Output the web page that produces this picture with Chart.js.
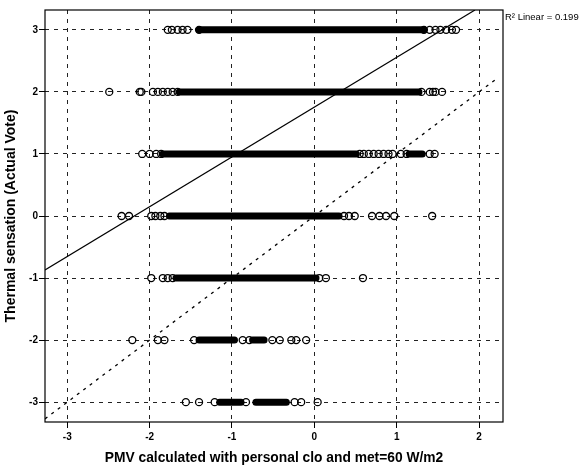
<!DOCTYPE html>
<html>
<head>
<meta charset="utf-8">
<script src="https://cdn.jsdelivr.net/npm/chart.js@4"></script>
<style>
html, body { margin: 0; padding: 0; background: #fff; }
canvas { display: block; }
</style>
</head>
<body>
<canvas id="scatter-chart" width="584" height="467"></canvas>
<script>
var votes = [3, 2, 1, 0, -1, -2, -3];
var pmv3 = [-1.78, -1.73, -1.66, -1.60, -1.54, -1.40, 1.33, 1.40, 1.47, 1.53, 1.60, 1.67, 1.72];
var pmv2 = [-2.49, -2.12, -2.10, -1.96, -1.90, -1.84, -1.78, -1.72, -1.66, 1.30, 1.40, 1.44, 1.47, 1.55];
var pmv1 = [-2.09, -2.00, -1.92, -1.86, 0.55, 0.60, 0.66, 0.72, 0.78, 0.84, 0.90, 0.95, 1.05, 1.12, 1.40, 1.46];
var pmv0 = [-2.34, -2.25, -1.98, -1.93, -1.87, -1.82, 0.36, 0.42, 0.49, 0.70, 0.79, 0.87, 0.97, 1.43];
var pmvM1 = [-1.98, -1.84, -1.78, -1.72, 0.06, 0.14, 0.59];
var pmvM2 = [-2.21, -1.90, -1.82, -1.46, -0.87, -0.79, -0.51, -0.42, -0.28, -0.22, -0.10];
var pmvM3 = [-1.56, -1.40, -1.21, -0.83, -0.24, -0.16, 0.04];
var pmvByVote = [pmv3, pmv2, pmv1, pmv0, pmvM1, pmvM2, pmvM3];

// stretches where the circles overlap into a solid black band
var bandVote = [3, 2, 1, 1, 0, -1, -2, -2, -3, -3];
var bandFrom = [-1.40, -1.64, -1.84, 1.15, -1.76, -1.68, -1.40, -0.75, -1.15, -0.71];
var bandTo   = [1.33, 1.27, 0.51, 1.31, 0.30, 0.02, -0.97, -0.61, -0.89, -0.34];

// fit line (solid) and 1:1 line (dotted)
var regX = [-3.27, 1.95];
var regY = [-0.87, 3.32];
var refX = [-3.27, 2.20];
var refY = [-3.27, 2.20];
var rSquared = 0.199;

var xTicks = [-3, -2, -1, 0, 1, 2];
var yTicks = [-3, -2, -1, 0, 1, 2, 3];

var font = "'Liberation Sans', Arial, sans-serif";
Chart.defaults.font.family = font;
Chart.defaults.color = '#000';

var datasets = [];

var points = [];
votes.forEach(function(v, i) {
	pmvByVote[i].forEach(function(x) { points.push({ x: x, y: v }); });
});
datasets.push({
	type: 'scatter',
	data: points,
	pointStyle: 'circle',
	pointRadius: 3.5,
	pointBorderWidth: 1.3,
	pointBorderColor: '#000',
	pointBackgroundColor: 'rgba(255,255,255,0)'
});

bandVote.forEach(function(v, i) {
	datasets.push({
		type: 'line',
		data: [{ x: bandFrom[i], y: v }, { x: bandTo[i], y: v }],
		borderColor: '#000',
		borderWidth: 7,
		borderCapStyle: 'round',
		pointRadius: 0
	});
});

datasets.push({
	type: 'line',
	data: regX.map(function(x, i) { return { x: x, y: regY[i] }; }),
	borderColor: '#000',
	borderWidth: 1.2,
	pointRadius: 0
});
datasets.push({
	type: 'line',
	data: refX.map(function(x, i) { return { x: x, y: refY[i] }; }),
	borderColor: '#000',
	borderWidth: 1.3,
	borderDash: [3, 5],
	pointRadius: 0
});

var frame = {
	id: 'frame',
	afterDraw: function(chart) {
		var a = chart.chartArea, ctx = chart.ctx;
		ctx.save();
		ctx.strokeStyle = '#000';
		ctx.lineWidth = 1.2;
		ctx.strokeRect(a.left, a.top, a.right - a.left, a.bottom - a.top);
		ctx.font = '9.5px ' + font;
		ctx.fillStyle = '#000';
		ctx.textBaseline = 'middle';
		ctx.fillText('R\u00b2 Linear = ' + rSquared.toFixed(3), a.right + 2, a.top + 7);
		ctx.restore();
	}
};

var ctx = document.getElementById('scatter-chart').getContext('2d');
var myChart = new Chart(ctx, {
	type: 'scatter',
	data: { datasets: datasets },
	plugins: [frame],
	options: {
		responsive: false,
		animation: false,
		devicePixelRatio: 1,
		layout: { padding: { top: 10, right: 81, left: 0, bottom: 0 } },
		plugins: { legend: { display: false }, tooltip: { enabled: false } },
		scales: {
			x: {
				type: 'linear',
				min: -3.27,
				max: 2.29,
				afterBuildTicks: function(scale) { scale.ticks = xTicks.map(function(v) { return { value: v }; }); },
				afterFit: function(scale) { scale.height = 45; },
				grid: { color: '#222', lineWidth: 1, tickLength: 6, tickColor: '#000', tickWidth: 1 },
				border: { display: false, dash: [4, 5] },
				ticks: { font: { size: 10, weight: 'bold' }, padding: 3, maxRotation: 0 },
				title: {
					display: true,
					text: 'PMV calculated with personal clo and met=60 W/m2',
					font: { size: 13.8, weight: 'bold' },
					padding: { top: 0, bottom: 1 }
				}
			},
			y: {
				type: 'linear',
				min: -3.32,
				max: 3.32,
				afterBuildTicks: function(scale) { scale.ticks = yTicks.map(function(v) { return { value: v }; }); },
				afterFit: function(scale) { scale.width = 45; },
				grid: { color: '#222', lineWidth: 1, tickLength: 6, tickColor: '#000', tickWidth: 1 },
				border: { display: false, dash: [4, 5] },
				ticks: { font: { size: 10, weight: 'bold' }, padding: 1 },
				title: {
					display: true,
					text: 'Thermal sensation (Actual Vote)',
					font: { size: 14, weight: 'bold' },
					padding: { top: 3, bottom: 0 }
				}
			}
		}
	}
});
</script>
</body>
</html>
